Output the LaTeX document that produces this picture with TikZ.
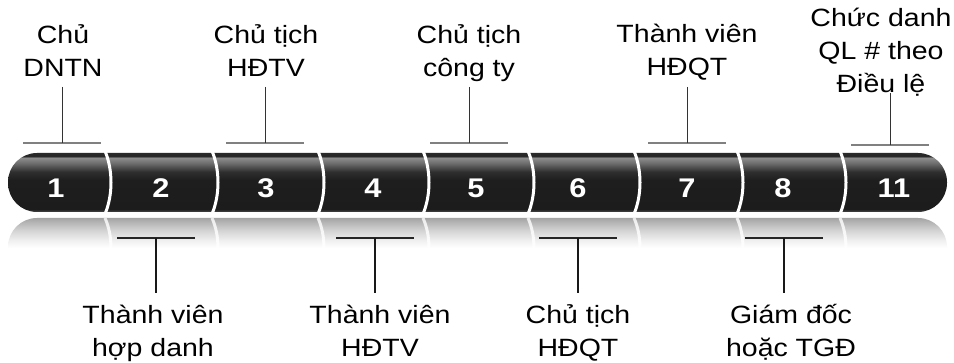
\documentclass[tikz,border=0pt]{standalone}
\usepackage{fontspec}
\setmainfont{Liberation Sans}[FakeStretch=1.14]
\definecolor{bA}{HTML}{4A4A4A}
\definecolor{bB}{HTML}{1C1C1C}
\definecolor{bC}{HTML}{1E1E1E}
\definecolor{bD}{HTML}{2E2E2E}
\definecolor{bE}{HTML}{6E6E6E}
\definecolor{bF}{HTML}{8C8C8C}
\definecolor{bG}{HTML}{262626}
\definecolor{bH}{HTML}{2A2A2A}
\definecolor{rA}{HTML}{A4A4A4}
\definecolor{rB}{HTML}{B4B4B4}
\definecolor{rC}{HTML}{D2D2D2}
\definecolor{rD}{HTML}{EFEFEF}
\definecolor{topline}{HTML}{808080}
\pgfdeclareverticalshading{barshade}{100bp}{color(0bp)=(bA); color(25bp)=(bA); color(27.5bp)=(bB); color(52bp)=(bC); color(59bp)=(bD); color(66.5bp)=(bE); color(70.8bp)=(bF); color(72.5bp)=(bG); color(75bp)=(bH); color(100bp)=(bH)}
\pgfdeclareverticalshading{reflshade}{100bp}{color(0bp)=(white); color(49.6bp)=(white); color(56.4bp)=(rD); color(64.8bp)=(rC); color(71.6bp)=(rB); color(75bp)=(rA); color(100bp)=(rA)}
\begin{document}
\begin{tikzpicture}[x=1pt,y=-1pt,
  lbl/.style={font=\fontsize{25}{33}\selectfont, align=center, anchor=base, inner sep=0pt},
  numlbl/.style={font=\bfseries\fontsize{27}{30}\selectfont, text=white, anchor=base, inner sep=0pt},
  tophbar/.style={draw=topline, line width=1.8pt},
  topvbar/.style={draw=black!80, line width=1pt},
  bothbar/.style={draw=black!85, line width=2pt},
  botvbar/.style={draw=black!90, line width=1.6pt},
  divider/.style={draw=white, line width=3pt}]
\useasboundingbox (0,0) rectangle (954,363);
\fill[white] (0,0) rectangle (954,363);
% reflection
\begin{scope}
  \clip[rounded corners=29pt] (8,218) rectangle (947,277);
  \shade[shading=reflshade] (8,218) rectangle (947,277);
  \foreach \x in {105,212,318,423,528,634,737,840}
    \draw[divider, draw opacity=0.8] (\x,218) .. controls (\x+8,236) and (\x+8,260) .. (\x,277);
\end{scope}
% bar
\shade[shading=barshade, rounded corners=29pt] (8,153) rectangle (947,212);
\begin{scope}
  \clip (0,150) rectangle (954,215);
  \foreach \x in {105,212,318,423,528,634,737,840}
    \draw[divider] (\x,151) .. controls (\x+8,170) and (\x+8,195) .. (\x,214);
\end{scope}
% numbers
\node[numlbl] (n1) at (56,198) {1};
\node[numlbl] (n2) at (161,198) {2};
\node[numlbl] (n3) at (266,198) {3};
\node[numlbl] (n4) at (373,198) {4};
\node[numlbl] (n5) at (476,198) {5};
\node[numlbl] (n6) at (578,198) {6};
\node[numlbl] (n7) at (687,198) {7};
\node[numlbl] (n8) at (783,198) {8};
\node[numlbl] (n11) at (894,198) {11};
% top labels (anchor = baseline of last line)
\node[lbl] (tA) at (63,77) {Chủ\\DNTN};
\node[lbl] (tB) at (266,77) {Chủ tịch\\HĐTV};
\node[lbl] (tC) at (469,77) {Chủ tịch\\công ty};
\node[lbl] (tD) at (687,76) {Thành viên\\HĐQT};
\node[lbl] (tE) at (881,93) {Chức danh\\QL \# theo\\Điều lệ};
% bottom labels
\node[lbl] (bF) at (153,357) {Thành viên\\hợp danh};
\node[lbl] (bG) at (380,357) {Thành viên\\HĐTV};
\node[lbl] (bH) at (578,357) {Chủ tịch\\HĐQT};
\node[lbl] (bI) at (791,357) {Giám đốc\\hoặc TGĐ};
% top markers
\foreach \n/\x/\yt/\yb in {A/62/87/143, B/265/87/143, C/469/87/143, D/687/87/143, E/890/93/145}{
  \coordinate (tq\n) at (\x,\yt);
  \coordinate (tm\n) at (\x,\yb);
  \coordinate (tl\n) at (\x-39,\yb);
  \coordinate (tr\n) at (\x+39,\yb);
  \draw[tophbar] (tl\n) -- (tr\n);
  \draw[topvbar] (tq\n) -- (tm\n);
}
% bottom markers
\foreach \n/\x in {F/156, G/375, H/578, I/784}{
  \coordinate (bq\n) at (\x,293);
  \coordinate (bm\n) at (\x,238);
  \coordinate (bl\n) at (\x-39,238);
  \coordinate (br\n) at (\x+39,238);
  \draw[bothbar] (bl\n) -- (br\n);
  \draw[botvbar] (bm\n) -- (bq\n);
}
\end{tikzpicture}
\end{document}
